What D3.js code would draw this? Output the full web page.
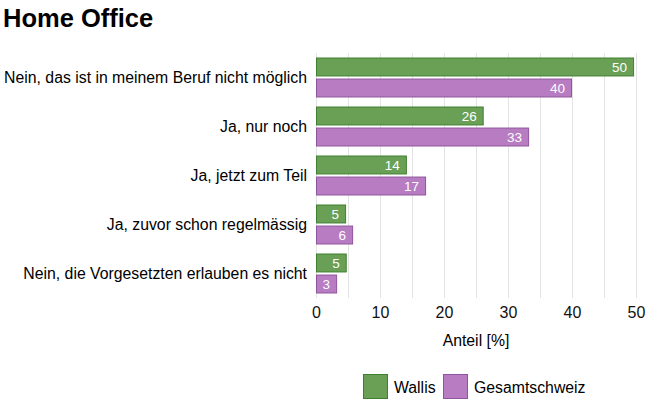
<!DOCTYPE html>
<html><head><meta charset="utf-8">
<script src="https://cdn.jsdelivr.net/npm/d3@7"></script>
<style>body{margin:0;background:#fff}svg{display:block;font-family:"Liberation Sans",Arial,Helvetica,sans-serif}</style>
</head><body><svg id="c" width="650" height="405"></svg>
<script>
const categories = ["Nein, das ist in meinem Beruf nicht möglich","Ja, nur noch","Ja, jetzt zum Teil","Ja, zuvor schon regelmässig","Nein, die Vorgesetzten erlauben es nicht"];
const seriesNames = ["Wallis","Gesamtschweiz"];
const wallis = [49.7, 26.2, 14.2, 4.7, 4.8];
const gesamt = [40.0, 33.3, 17.2, 5.8, 3.3];
const wallisLabels = ["50","26","14","5","5"];
const gesamtLabels = ["40","33","17","6","3"];
const xTicks = [0,10,20,30,40,50];
const gridVals = [0,5,10,15,20,25,30,35,40,45,50];

const fills = {Wallis:"#69a055", Gesamtschweiz:"#b77cc2"};
const strokes = {Wallis:"#3f7f30", Gesamtschweiz:"#8f559c"};

const svg = d3.select("#c");
const pL = 316, pR = 636, pT = 53, pB = 298;
const x = d3.scaleLinear().domain([0,50]).range([pL,pR]);
const y = d3.scaleBand().domain(categories).range([pT,pB]).paddingInner(0.184).paddingOuter(0.092);
const ys = d3.scaleBand().domain(seriesNames).range([0,y.bandwidth()]).paddingInner(0.1);

svg.append("text").attr("x",3).attr("y",27).attr("font-size",25.5).attr("font-weight","bold").attr("fill","#000").text("Home Office");

svg.append("g").selectAll("line").data(gridVals).join("line")
  .attr("x1",d=>x(d)+0.5).attr("x2",d=>x(d)+0.5).attr("y1",pT).attr("y2",pB)
  .attr("stroke","#e3e3e3").attr("stroke-width",1);

const rows = categories.map((c,i)=>({c, vals:[{s:"Wallis",v:wallis[i],l:wallisLabels[i]},{s:"Gesamtschweiz",v:gesamt[i],l:gesamtLabels[i]}]}));
const g = svg.append("g").selectAll("g").data(rows).join("g").attr("transform",d=>`translate(0,${y(d.c)})`);
g.selectAll("rect").data(d=>d.vals).join("rect")
  .attr("x",x(0)+0.5).attr("y",d=>ys(d.s)+0.5)
  .attr("width",d=>x(d.v)-x(0)-1).attr("height",ys.bandwidth()-1)
  .attr("fill",d=>fills[d.s]).attr("stroke",d=>strokes[d.s]).attr("stroke-width",1);
g.selectAll("text").data(d=>d.vals).join("text")
  .attr("x",d=>x(d.v)-7).attr("y",d=>ys(d.s)+ys.bandwidth()/2).attr("dy","0.36em")
  .attr("text-anchor","end").attr("font-size",13.5).attr("fill","#fff").text(d=>d.l);

svg.append("g").selectAll("text").data(categories).join("text")
  .attr("x",307).attr("y",d=>y(d)+y.bandwidth()/2).attr("dy","0.36em")
  .attr("text-anchor","end").attr("font-size",15.8).attr("fill","#000").text(d=>d);

const ax = svg.append("g").attr("transform",`translate(0,${pB})`)
  .call(d3.axisBottom(x).tickValues(xTicks).tickSize(0).tickPadding(9));
ax.select(".domain").remove();
ax.selectAll("text").attr("font-size",16).attr("fill","#111").attr("font-family","Liberation Sans, Arial, sans-serif");

svg.append("text").attr("x",(pL+pR)/2).attr("y",346).attr("text-anchor","middle").attr("font-size",15.8).attr("fill","#000").text("Anteil [%]");

const lg = svg.append("g").selectAll("g").data(seriesNames).join("g")
  .attr("transform",(d,i)=>`translate(${i===0?363:443},374)`);
lg.append("rect").attr("x",0.5).attr("y",0.5).attr("width",24).attr("height",24)
  .attr("fill",d=>fills[d]).attr("stroke",d=>strokes[d]);
lg.append("text").attr("x",31).attr("y",13).attr("dy","0.36em").attr("font-size",15.8).attr("fill","#000").text(d=>d);
</script></body></html>
